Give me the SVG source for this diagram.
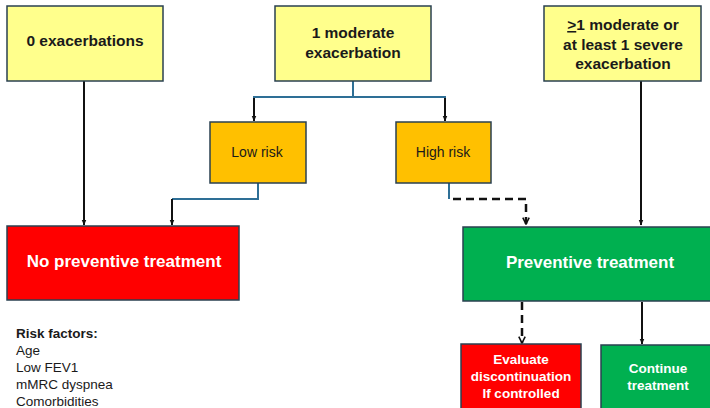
<svg xmlns="http://www.w3.org/2000/svg" width="710" height="408" viewBox="0 0 710 408">
<defs>
<marker id="ah" viewBox="0 0 10 10" refX="9" refY="5" markerWidth="6" markerHeight="6" orient="auto" markerUnits="userSpaceOnUse">
<path d="M0,1 L10,5 L0,9 z" fill="#111"/>
</marker>
<marker id="av" viewBox="0 0 10 10" refX="9" refY="5" markerWidth="8" markerHeight="8" orient="auto" markerUnits="userSpaceOnUse">
<path d="M1,1 L9,5 L1,9" fill="none" stroke="#111" stroke-width="2"/>
</marker>
<style>
.box{stroke:#2a4050;stroke-width:1.5}
.yel{fill:#ffff8c}
.gold{fill:#ffc000}
.red{fill:#ff0000}
.grn{fill:#00b050}
.t{font-family:"Liberation Sans",Arial,sans-serif;text-anchor:middle}
.b{font-weight:bold}
.dk{fill:#1a1a1a}
.wh{fill:#ffffff}
.blue{fill:none;stroke:#2e6f96;stroke-width:2}
.blk{fill:none;stroke:#111;stroke-width:2}
.dash{fill:none;stroke:#111;stroke-width:2.5;stroke-dasharray:8,5}
.rf{font-family:"Liberation Sans",Arial,sans-serif;font-size:13.5px;fill:#1a1a1a}
</style>
</defs>
<g id="connectors">
<line class="blk" x1="84" y1="81" x2="84" y2="225" marker-end="url(#ah)"/>
<polyline class="blue" points="353,81 353,97 254,97 254,110"/>
<polyline class="blue" points="353,97 445,97 445,110"/>
<line class="blk" x1="254" y1="98" x2="254" y2="121" marker-end="url(#ah)"/>
<line class="blk" x1="445" y1="98" x2="445" y2="121" marker-end="url(#ah)"/>
<polyline class="blue" points="258,183 258,199 172,199"/>
<line class="blk" x1="172" y1="199" x2="172" y2="225" marker-end="url(#ah)"/>
<line class="blue" x1="449" y1="183" x2="449" y2="199"/>
<polyline class="dash" points="453,199 526,199 526,224" marker-end="url(#av)"/>
<line class="blk" x1="641" y1="81" x2="641" y2="225" marker-end="url(#ah)"/>
<line class="dash" x1="522" y1="302" x2="522" y2="343" marker-end="url(#av)"/>
<line class="blk" x1="642" y1="302" x2="642" y2="344" marker-end="url(#ah)"/>
</g>
<g id="n0">
<rect class="box yel" x="7" y="6" width="156" height="75"/>
<text class="t b dk" x="85" y="46" font-size="15.5">0 exacerbations</text>
</g>
<g id="n1">
<rect class="box yel" x="275" y="6" width="156" height="75"/>
<text class="t b dk" x="353" y="38" font-size="15.5">1 moderate</text>
<text class="t b dk" x="353" y="58" font-size="15.5">exacerbation</text>
</g>
<g id="n2">
<rect class="box yel" x="544" y="6" width="157" height="75"/>
<text class="t b dk" x="623" y="30" font-size="15.5"><tspan text-decoration="underline">&gt;</tspan>1 moderate or</text>
<text class="t b dk" x="623" y="50" font-size="15.5">at least 1 severe</text>
<text class="t b dk" x="623" y="69" font-size="15.5">exacerbation</text>
</g>
<g id="low">
<rect class="box gold" x="210" y="122" width="96" height="61"/>
<text class="t dk" x="257" y="157" font-size="14">Low risk</text>
</g>
<g id="high">
<rect class="box gold" x="396" y="122" width="95" height="61"/>
<text class="t dk" x="443" y="157" font-size="14">High risk</text>
</g>
<g id="nopt">
<rect class="box red" x="7" y="226" width="232" height="74"/>
<text class="t b wh" x="124" y="267" font-size="17">No preventive treatment</text>
</g>
<g id="pt">
<rect class="box grn" x="463" y="227" width="250" height="74"/>
<text class="t b wh" x="590" y="268" font-size="17">Preventive treatment</text>
</g>
<g id="eval">
<rect class="box red" x="461" y="344" width="120" height="70"/>
<text class="t b wh" x="521" y="364" font-size="13.5">Evaluate</text>
<text class="t b wh" x="521" y="381" font-size="13.5">discontinuation</text>
<text class="t b wh" x="521" y="398" font-size="13.5">If controlled</text>
</g>
<g id="cont">
<rect class="box grn" x="601" y="345" width="115" height="70"/>
<text class="t b wh" x="658" y="373" font-size="13.5">Continue</text>
<text class="t b wh" x="658" y="390" font-size="13.5">treatment</text>
</g>
<g id="risk">
<text class="rf" x="16" y="338" font-weight="bold">Risk factors:</text>
<text class="rf" x="16" y="355">Age</text>
<text class="rf" x="16" y="372">Low FEV1</text>
<text class="rf" x="16" y="389">mMRC dyspnea</text>
<text class="rf" x="16" y="406">Comorbidities</text>
</g>
</svg>
